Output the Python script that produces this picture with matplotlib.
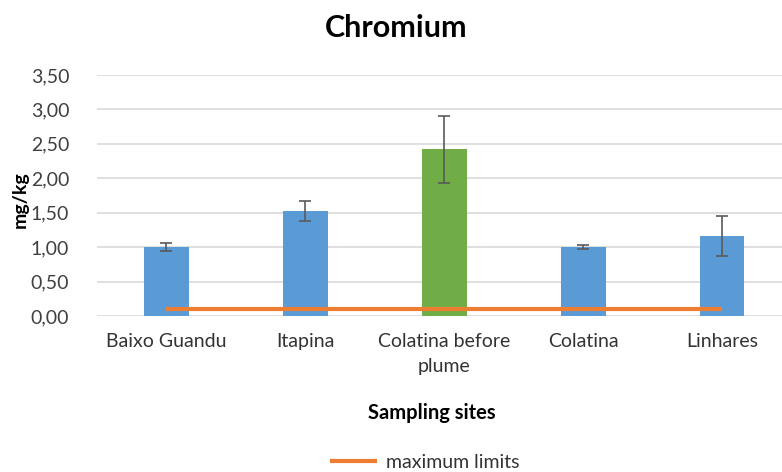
import matplotlib.pyplot as plt
import numpy as np

plt.rcParams["font.family"] = ["Lato", "DejaVu Sans"]

sites = ["Baixo Guandu", "Itapina", "Colatina before\nplume", "Colatina", "Linhares"]
chromium = [1.00, 1.53, 2.42, 1.005, 1.16]
chromium_err = [0.055, 0.145, 0.485, 0.03, 0.29]
max_limits = [0.10, 0.10, 0.10, 0.10, 0.10]
bar_colors = ["#5B9BD5", "#5B9BD5", "#70AD47", "#5B9BD5", "#5B9BD5"]
yticks = [0.0, 0.5, 1.0, 1.5, 2.0, 2.5, 3.0, 3.5]

fig = plt.figure(figsize=(7.82, 4.72), dpi=100)
ax = fig.add_axes([97 / 782, 1 - 316 / 472, (782 - 97) / 782, (316 - 75) / 472])

x = np.arange(len(sites))
ax.bar(x, chromium, width=0.32, color=bar_colors, zorder=2,
       yerr=chromium_err, error_kw=dict(ecolor="#5a5a5a", elinewidth=1.2, capsize=4, capthick=1.2))
ax.plot(x, max_limits, color="#ED7D31", linewidth=3, solid_capstyle="butt", zorder=3, label="maximum limits")

ax.set_xlim(-0.5, 4.43)
ax.set_ylim(0, 3.5)
ax.set_yticks(yticks)
ax.set_yticklabels([f"{v:.2f}".replace(".", ",") for v in yticks], fontsize=14, color="#404040")
ax.set_xticks(x)
ax.set_xticklabels(sites, fontsize=14, color="#333333", va="top", linespacing=1.6)
ax.tick_params(length=0, axis="both")
ax.tick_params(axis="x", pad=12)
ax.tick_params(axis="y", pad=20)
ax.grid(axis="y", color="#d9d9d9", linewidth=1.2, zorder=0)
ax.set_axisbelow(True)
for side in ["top", "right", "left", "bottom"]:
    ax.spines[side].set_visible(False)

fig.text(396 / 782, 1 - 28 / 472, "Chromium", ha="center", va="center", fontsize=22, fontweight="bold", color="black")
fig.text(20 / 782, 1 - 200 / 472, "mg/kg", ha="center", va="center", rotation=90, fontsize=14, fontweight="bold", color="black")
fig.text(432 / 782, 1 - 413 / 472, "Sampling sites", ha="center", va="center", fontsize=14.5, fontweight="bold", color="black")

fig.legend(loc="center", bbox_to_anchor=(425 / 782, 1 - 462 / 472), frameon=False, fontsize=14,
           handlelength=2.4, handletextpad=0.5, labelcolor="#333333")

fig.savefig("out.png", dpi=100)
